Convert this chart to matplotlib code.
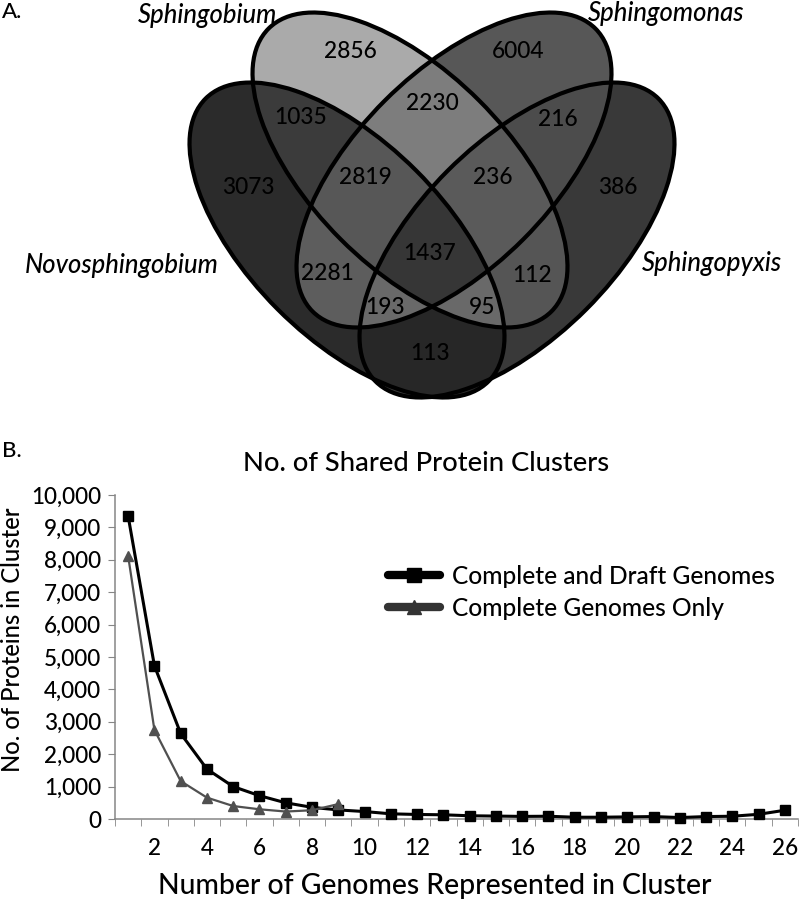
import numpy as np
import matplotlib.pyplot as plt
from matplotlib.patches import Ellipse
from matplotlib.lines import Line2D
from matplotlib.colors import to_rgba
from matplotlib.ticker import FuncFormatter

plt.rcParams['font.family'] = ['Lato', 'DejaVu Sans']
plt.rcParams['font.weight'] = 'medium'

# ---------------- Panel A: Venn data ----------------
set_names = ['Novosphingobium', 'Sphingobium', 'Sphingomonas', 'Sphingopyxis']
# region membership as bitmask: 1=Novosphingobium, 2=Sphingobium, 4=Sphingomonas, 8=Sphingopyxis
region_masks = [1, 2, 4, 8, 3, 6, 12, 5, 10, 9, 7, 14, 13, 11, 15]
region_counts = [3073, 2856, 6004, 386, 1035, 2230, 216, 2281, 112, 113, 2819, 236, 193, 95, 1437]

# ---------------- Panel B: line data ----------------
genomes = np.arange(1, 27)
complete_draft = [9350, 4730, 2640, 1540, 1000, 720, 500, 360, 280, 230, 160, 140, 130, 100,
                  90, 80, 85, 55, 55, 65, 75, 45, 75, 85, 145, 270]
complete_only = [8120, 2750, 1170, 660, 400, 300, 230, 270, 460]
xtick_labels = [str(g) for g in genomes if g % 2 == 0]

# ---------------- styles / layout ----------------
region_colors = {1: '#2b2b2b', 2: '#aaaaaa', 4: '#575757', 8: '#393939',
                 3: '#3b3b3b', 6: '#7d7d7d', 12: '#4c4c4c', 5: '#5d5d5d',
                 10: '#555555', 9: '#272727', 7: '#575757', 14: '#5a5a5a',
                 13: '#696969', 11: '#696969', 15: '#363636'}
# ellipse layout in pixel coordinates of the top panel (y downwards)
ell_w, ell_h = 400, 196
ellipses = [(347, 240, 45), (410, 170, 45), (454, 170, -45), (517, 240, -45)]
name_pos = [(122, 265), (208, 15), (666, 13), (712, 263)]
# label anchor for each region, same order as region_masks
count_pos = [(248, 187), (350, 52), (518, 52), (618, 187), (301, 118), (432, 103),
             (558, 120), (327, 273), (532, 275), (430, 353), (365, 178), (493, 178),
             (385, 308), (482, 308), (430, 253)]

W, H = 800, 906
fig = plt.figure(figsize=(8, 9.06), dpi=100)
renderer = fig.canvas.get_renderer()


def fit_size(s, target, vertical=False, **kw):
    # font size that gives the text the wanted pixel extent
    t = fig.text(0, 0, s, fontsize=20, rotation=90 if vertical else 0, **kw)
    bb = t.get_window_extent(renderer)
    t.remove()
    return 20 * target / (bb.height if vertical else bb.width)


# ---------------- Venn ----------------
VH = 420
axv = fig.add_axes([0, 1 - VH / H, 1, VH / H])
xs = np.linspace(0, W, 1601)
ys = np.linspace(0, VH, 841)
X, Y = np.meshgrid(xs, ys)
code = np.zeros(X.shape, dtype=int)
for i, (cx, cy, ang) in enumerate(ellipses):
    t = np.deg2rad(ang)
    dx, dy = X - cx, Y - cy
    u = dx * np.cos(t) + dy * np.sin(t)
    v = -dx * np.sin(t) + dy * np.cos(t)
    inside = (u / (ell_w / 2)) ** 2 + (v / (ell_h / 2)) ** 2 <= 1
    code |= inside.astype(int) << i

rgba = np.zeros(X.shape + (4,))
for m, col in region_colors.items():
    rgba[code == m] = to_rgba(col)
axv.imshow(rgba, extent=(0, W, VH, 0), interpolation='nearest')

for cx, cy, ang in ellipses:
    axv.add_patch(Ellipse((cx, cy), ell_w, ell_h, angle=ang, fill=False,
                          ec='black', lw=3))

num_fs = fit_size('2856', 53)
for n, (px, py) in zip(region_counts, count_pos):
    axv.text(px, py, str(n), ha='center', va='center', fontsize=num_fs, color='black')

name_fs = fit_size('Novosphingobium', 193, style='italic')
for name, (px, py) in zip(set_names, name_pos):
    axv.text(px, py, name, ha='center', va='center', fontsize=name_fs, style='italic')

axv.set_xlim(0, W)
axv.set_ylim(VH, 0)
axv.axis('off')

fig.text(2 / W, 1 - 12 / H, 'A.', ha='left', va='center', fontsize=16)
fig.text(2 / W, 1 - 451 / H, 'B.', ha='left', va='center', fontsize=16)

# ---------------- Line chart ----------------
ax = fig.add_axes([115 / W, 1 - 819 / H, 683 / W, 324 / H])
ax.plot(genomes, complete_draft, color='black', lw=2.2, marker='s', ms=7,
        clip_on=False, zorder=3, label='Complete and Draft Genomes')
ax.plot(genomes[:len(complete_only)], complete_only, color='#505050', lw=1.6,
        marker='^', ms=7.5, clip_on=False, zorder=4, label='Complete Genomes Only')

tick_fs = fit_size('10,000', 70)
ax.set_xlim(0.5, 26.5)
ax.set_ylim(0, 10000)
ax.set_yticks(range(0, 10001, 1000))
ax.yaxis.set_major_formatter(FuncFormatter(lambda v, p: f'{int(v):,}'))
ax.set_xticks(genomes[1::2])
ax.set_xticklabels(xtick_labels)
ax.set_xticks(np.arange(0.5, 27, 1), minor=True)
ax.tick_params(axis='x', which='major', length=0, pad=14, labelsize=tick_fs)
ax.tick_params(axis='x', which='minor', length=5, color='#868686', direction='out')
ax.tick_params(axis='y', length=5, color='#868686', direction='out', pad=5,
               labelsize=tick_fs)
for s in ['top', 'right']:
    ax.spines[s].set_visible(False)
for s in ['left', 'bottom']:
    ax.spines[s].set_color('#868686')
    ax.spines[s].set_linewidth(1.1)

leg_fs = fit_size('Complete and Draft Genomes', 323)
handles = [Line2D([], [], color='black', lw=6, solid_capstyle='round', marker='s', ms=10),
           Line2D([], [], color='#333333', lw=6, solid_capstyle='round', marker='^', ms=10)]
ax.legend(handles, ['Complete and Draft Genomes', 'Complete Genomes Only'],
          loc='upper left', bbox_to_anchor=(388 / W, 1 - 565 / H),
          bbox_transform=fig.transFigure, frameon=False, fontsize=leg_fs,
          handlelength=52 / (leg_fs * 100 / 72), handletextpad=12 / (leg_fs * 100 / 72),
          labelspacing=0.35, borderpad=0, borderaxespad=0)

fig.text(243 / W, 1 - 464 / H, 'No. of Shared Protein Clusters', ha='left',
         va='center', fontsize=fit_size('No. of Shared Protein Clu', 309))
fig.text(435 / W, 1 - 886 / H, 'Number of Genomes Represented in Cluster',
         ha='center', va='center',
         fontsize=fit_size('Number of Genomes Represented in Cluster', 554))
fig.text(13 / W, 1 - 640 / H, 'No. of Proteins in Cluster', ha='center',
         va='center', rotation=90,
         fontsize=fit_size('No. of Proteins in Cluster', 265, vertical=True))

fig.savefig('out.png', dpi=100)
